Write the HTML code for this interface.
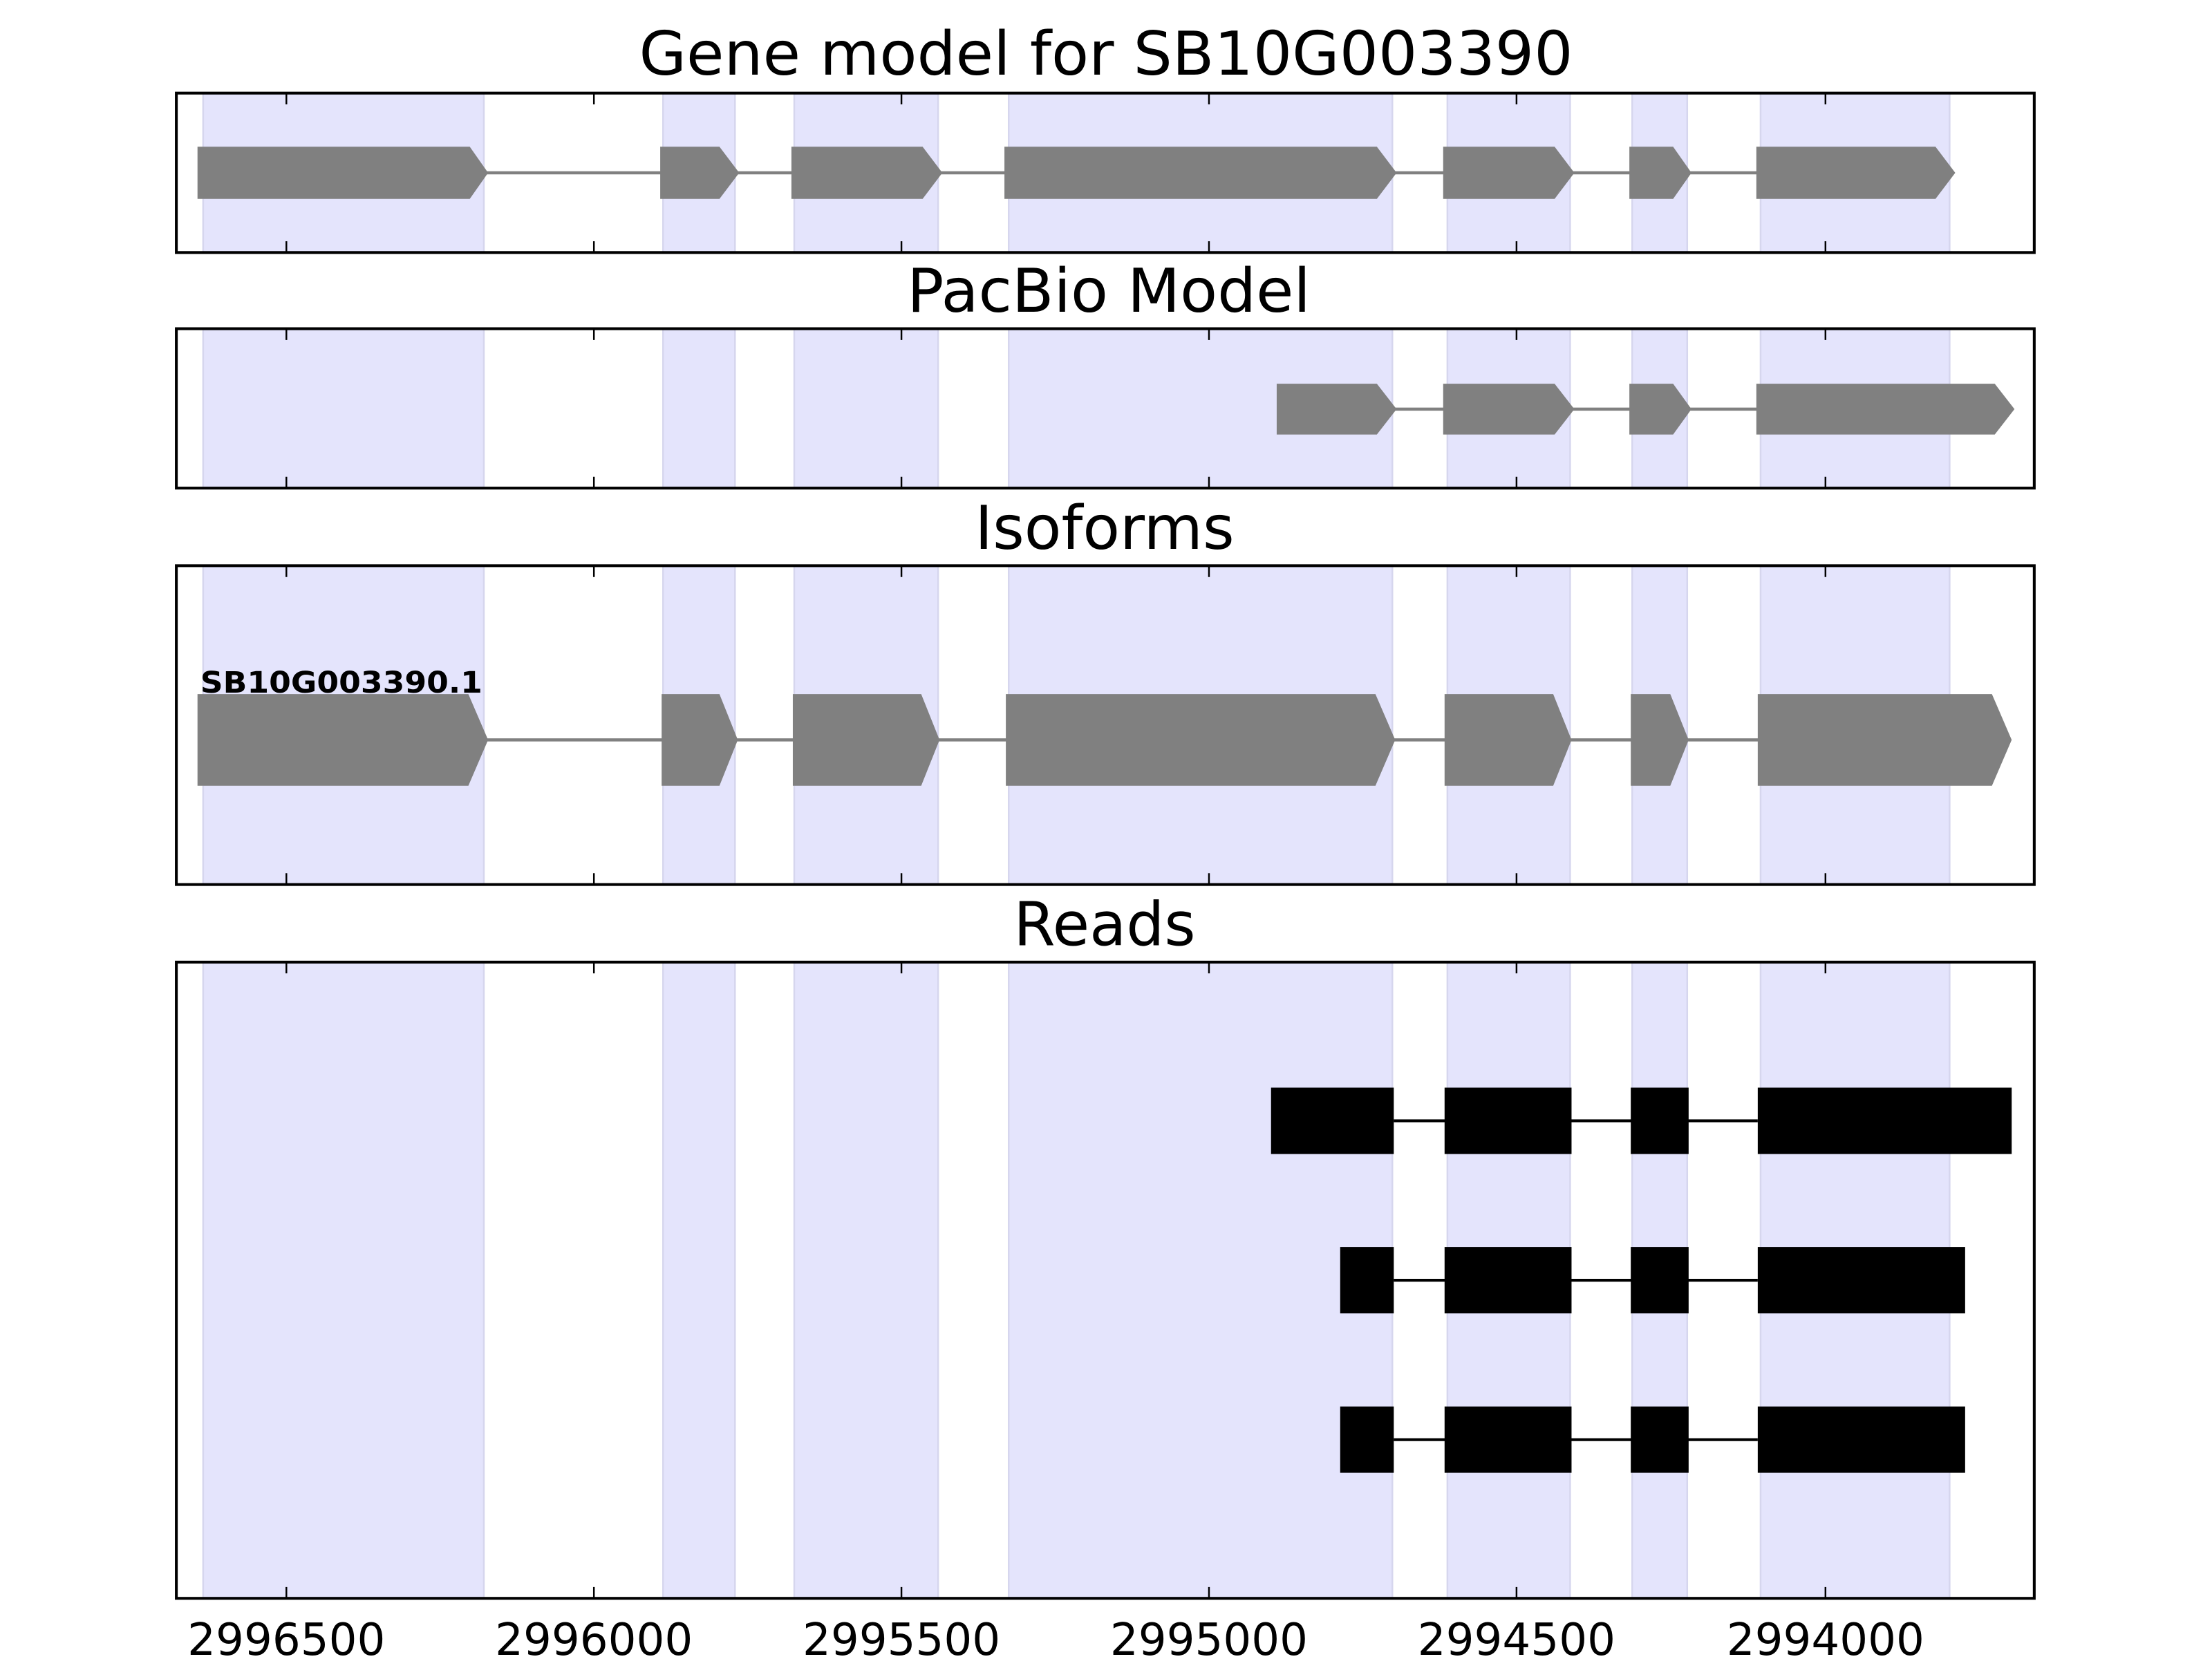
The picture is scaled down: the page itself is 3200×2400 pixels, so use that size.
<!DOCTYPE html>
<html><head><meta charset="utf-8"><style>html,body{margin:0;padding:0;background:#fff}svg{display:block}</style></head>
<body>
<svg xmlns="http://www.w3.org/2000/svg" width="3200" height="2400" viewBox="0 0 1568 1176" font-family="DejaVu Sans, Liberation Sans, sans-serif">
<rect width="1568" height="1176" fill="#fff"/>
<g fill="#e4e4fc" stroke="#d6d6ee" stroke-width="1.2">
 <rect x="144" y="66" width="199" height="113"/><rect x="470" y="66" width="51" height="113"/><rect x="563" y="66" width="102" height="113"/><rect x="715" y="66" width="272" height="113"/><rect x="1026" y="66" width="87" height="113"/><rect x="1157" y="66" width="39" height="113"/><rect x="1248" y="66" width="134" height="113"/>
 <rect x="144" y="233" width="199" height="113"/><rect x="470" y="233" width="51" height="113"/><rect x="563" y="233" width="102" height="113"/><rect x="715" y="233" width="272" height="113"/><rect x="1026" y="233" width="87" height="113"/><rect x="1157" y="233" width="39" height="113"/><rect x="1248" y="233" width="134" height="113"/>
 <rect x="144" y="401" width="199" height="226"/><rect x="470" y="401" width="51" height="226"/><rect x="563" y="401" width="102" height="226"/><rect x="715" y="401" width="272" height="226"/><rect x="1026" y="401" width="87" height="226"/><rect x="1157" y="401" width="39" height="226"/><rect x="1248" y="401" width="134" height="226"/>
 <rect x="144" y="682" width="199" height="451"/><rect x="470" y="682" width="51" height="451"/><rect x="563" y="682" width="102" height="451"/><rect x="715" y="682" width="272" height="451"/><rect x="1026" y="682" width="87" height="451"/><rect x="1157" y="682" width="39" height="451"/><rect x="1248" y="682" width="134" height="451"/>
</g>

<line x1="340" y1="122.5" x2="1250" y2="122.5" stroke="#808080" stroke-width="2.2"/>
<g fill="#808080">
<polygon points="140,104 333,104 346,122.5 333,141 140,141"/>
<polygon points="468,104 510,104 524,122.5 510,141 468,141"/>
<polygon points="561,104 654,104 668,122.5 654,141 561,141"/>
<polygon points="712,104 976,104 990,122.5 976,141 712,141"/>
<polygon points="1023,104 1102,104 1116,122.5 1102,141 1023,141"/>
<polygon points="1155,104 1186,104 1199,122.5 1186,141 1155,141"/>
<polygon points="1245,104 1372,104 1386,122.5 1372,141 1245,141"/>
</g>

<line x1="980" y1="290" x2="1250" y2="290" stroke="#808080" stroke-width="2.2"/>
<g fill="#808080">
<polygon points="905,272 976,272 990,290 976,308 905,308"/>
<polygon points="1023,272 1102,272 1116,290 1102,308 1023,308"/>
<polygon points="1155,272 1186,272 1199,290 1186,308 1155,308"/>
<polygon points="1245,272 1414,272 1428,290 1414,308 1245,308"/>
</g>

<line x1="340" y1="524.5" x2="1250" y2="524.5" stroke="#808080" stroke-width="2.2"/>
<g fill="#808080">
<polygon points="140,492 332,492 346,524.5 332,557 140,557"/>
<polygon points="469,492 510,492 523,524.5 510,557 469,557"/>
<polygon points="562,492 653,492 666,524.5 653,557 562,557"/>
<polygon points="713,492 975,492 989,524.5 975,557 713,557"/>
<polygon points="1024,492 1101,492 1114,524.5 1101,557 1024,557"/>
<polygon points="1156,492 1184,492 1197,524.5 1184,557 1156,557"/>
<polygon points="1246,492 1412,492 1426,524.5 1412,557 1246,557"/>
</g>
<text x="142" y="491" font-weight="bold" font-size="21" textLength="200" lengthAdjust="spacingAndGlyphs">SB10G003390.1</text>

<g stroke="#000" stroke-width="2">
<line x1="988" y1="794.5" x2="1246" y2="794.5"/>
<line x1="988" y1="907.5" x2="1246" y2="907.5"/>
<line x1="988" y1="1020.5" x2="1246" y2="1020.5"/>
</g>
<g fill="#000">
<rect x="901" y="771" width="87" height="47"/><rect x="1024" y="771" width="90" height="47"/><rect x="1156" y="771" width="41" height="47"/><rect x="1246" y="771" width="180" height="47"/>
<rect x="950" y="884" width="38" height="47"/><rect x="1024" y="884" width="90" height="47"/><rect x="1156" y="884" width="41" height="47"/><rect x="1246" y="884" width="147" height="47"/>
<rect x="950" y="997" width="38" height="47"/><rect x="1024" y="997" width="90" height="47"/><rect x="1156" y="997" width="41" height="47"/><rect x="1246" y="997" width="147" height="47"/>
</g>

<g fill="none" stroke="#000" stroke-width="2">
<rect x="125" y="66" width="1317" height="113"/>
<rect x="125" y="233" width="1317" height="113"/>
<rect x="125" y="401" width="1317" height="226"/>
<rect x="125" y="682" width="1317" height="451"/>
</g>
<g stroke="#000" stroke-width="1.2">
<path d="M203,66v8M421,66v8M639,66v8M857,66v8M1075,66v8M1294,66v8 M203,179v-8M421,179v-8M639,179v-8M857,179v-8M1075,179v-8M1294,179v-8"/>
<path d="M203,233v8M421,233v8M639,233v8M857,233v8M1075,233v8M1294,233v8 M203,346v-8M421,346v-8M639,346v-8M857,346v-8M1075,346v-8M1294,346v-8"/>
<path d="M203,401v8M421,401v8M639,401v8M857,401v8M1075,401v8M1294,401v8 M203,627v-8M421,627v-8M639,627v-8M857,627v-8M1075,627v-8M1294,627v-8"/>
<path d="M203,682v8M421,682v8M639,682v8M857,682v8M1075,682v8M1294,682v8 M203,1133v-8M421,1133v-8M639,1133v-8M857,1133v-8M1075,1133v-8M1294,1133v-8"/>
</g>

<g font-size="43" text-anchor="middle" fill="#000">
<text x="784" y="53" textLength="662" lengthAdjust="spacingAndGlyphs">Gene model for SB10G003390</text>
<text x="786" y="221" textLength="286" lengthAdjust="spacingAndGlyphs">PacBio Model</text>
<text x="783" y="389" textLength="184" lengthAdjust="spacingAndGlyphs">Isoforms</text>
<text x="783" y="670" textLength="129" lengthAdjust="spacingAndGlyphs">Reads</text>
</g>
<g font-size="31.5" text-anchor="middle" fill="#000">
<text x="203" y="1173">2996500</text>
<text x="421" y="1173">2996000</text>
<text x="639" y="1173">2995500</text>
<text x="857" y="1173">2995000</text>
<text x="1075" y="1173">2994500</text>
<text x="1294" y="1173">2994000</text>
</g>
</svg>
</body></html>
